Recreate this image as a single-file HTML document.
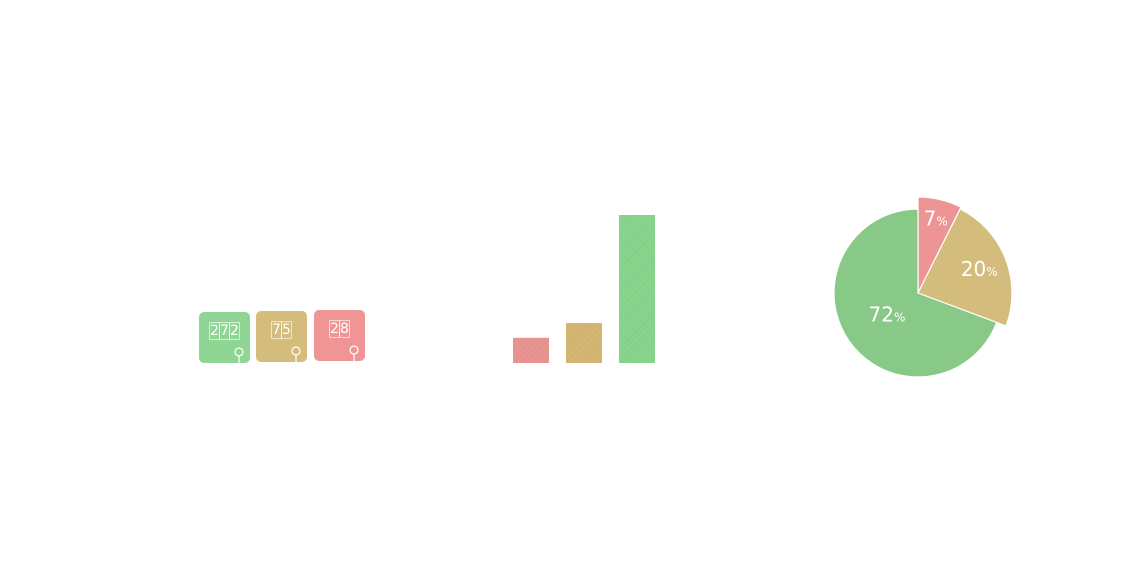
<!DOCTYPE html>
<html><head><meta charset="utf-8"><style>
html,body{margin:0;padding:0;background:#fff;width:1147px;height:588px;overflow:hidden;font-family:"DejaVu Sans","Liberation Sans",sans-serif}
.badge{position:absolute;width:51px;height:51px;border-radius:5px}
.num{position:absolute;top:9px;left:0;right:0;text-align:center;color:#fff;font-size:15px;letter-spacing:0}
.num span{display:inline-block;border:1px solid rgba(255,255,255,.6);width:9px;height:16px;line-height:16px;margin:0 -0.5px;font-size:14px}
</style></head><body>
<div id="badges"></div>
<svg id="chart" width="1147" height="588" style="position:absolute;left:0;top:0">
<defs>
<pattern id="hatch" width="4" height="4" patternUnits="userSpaceOnUse" patternTransform="rotate(45)"><line x1="0" y1="0" x2="0" y2="4" stroke="rgba(0,0,0,0.06)" stroke-width="1"/></pattern>
</defs>
<g id="bars"></g><g id="pie"></g>
</svg>
<script>
const badgeLabels=['272','75','28'];
const badgeColors=['#8fd694','#d4bc7d','#ef9595'];
const barCats=['red','tan','green'];
const barValues=[17,27,100];
const barColors=['#e89490','#d4b572','#88d48c'];
const pieValues=[7.4,23.3,69.3];
const pieLabels=['7','20','72'];
const pieColors=['#ed9494','#d4bc7d','#88c988'];
const pieRadii=[96,94,84];
const labelFactor=[0.8,0.7,0.45];

const NS='http://www.w3.org/2000/svg';
const bd=document.getElementById('badges');
const bx=[199,256,314], by=[312,311,310];
badgeLabels.forEach((t,i)=>{
  const d=document.createElement('div');d.className='badge';
  
  
  d.style.left=bx[i]+'px';d.style.top=by[i]+'px';d.style.background=badgeColors[i];
  d.innerHTML='<div class="num">'+t.split('').map(c=>'<span>'+c+'</span>').join('')+'</div>'+
  '<svg width="51" height="51" style="position:absolute;left:0;top:0"><circle cx="40" cy="40" r="4" fill="none" stroke="#fff" stroke-width="1.2"/><line x1="40" y1="44" x2="40" y2="51" stroke="#fff" stroke-width="1.2"/></svg>';
  bd.appendChild(d);
});
const g=document.getElementById('bars');
const base=363, hMax=148, x0=513, step=53, bw=36;
const y=v=>base-v/100*hMax;
barValues.forEach((v,i)=>{
  const r=document.createElementNS(NS,'rect');
  r.setAttribute('x',x0+i*step);r.setAttribute('y',y(v));r.setAttribute('width',bw);r.setAttribute('height',base-y(v));
  r.setAttribute('fill',barColors[i]);
  
  
  g.appendChild(r);
  const h=document.createElementNS(NS,'rect');
  h.setAttribute('x',x0+i*step);h.setAttribute('y',y(v));h.setAttribute('width',bw);h.setAttribute('height',base-y(v));
  h.setAttribute('fill','url(#hatch)');
  g.appendChild(h);
});
const p=document.getElementById('pie');
const cx=918,cy=293;const tot=pieValues.reduce((a,b)=>a+b,0);
let a=0;
pieValues.forEach((v,i)=>{
  const a1=a+v/tot*2*Math.PI,r=pieRadii[i];
  const pt=(ang,rr)=>[cx+rr*Math.sin(ang),cy-rr*Math.cos(ang)];
  const [x1,y1]=pt(a,r),[x2,y2]=pt(a1,r);
  const path=document.createElementNS(NS,'path');
  path.setAttribute('d',`M${cx},${cy}L${x1},${y1}A${r},${r} 0 ${a1-a>Math.PI?1:0} 1 ${x2},${y2}Z`);
  path.setAttribute('fill',pieColors[i]);path.setAttribute('stroke','#fff');path.setAttribute('stroke-width','1.2');
  
  
  p.appendChild(path);
  const mid=(a+a1)/2,[lx,ly]=pt(mid,r*labelFactor[i]);
  const t=document.createElementNS(NS,'text');
  t.setAttribute('x',lx);t.setAttribute('y',ly+7);t.setAttribute('text-anchor','middle');t.setAttribute('fill','#fff');
  t.setAttribute('font-size','20');
  
  
  t.innerHTML=pieLabels[i]+'<tspan font-size="12">%</tspan>';
  p.appendChild(t);
  a=a1;
});
</script>
</body></html>
